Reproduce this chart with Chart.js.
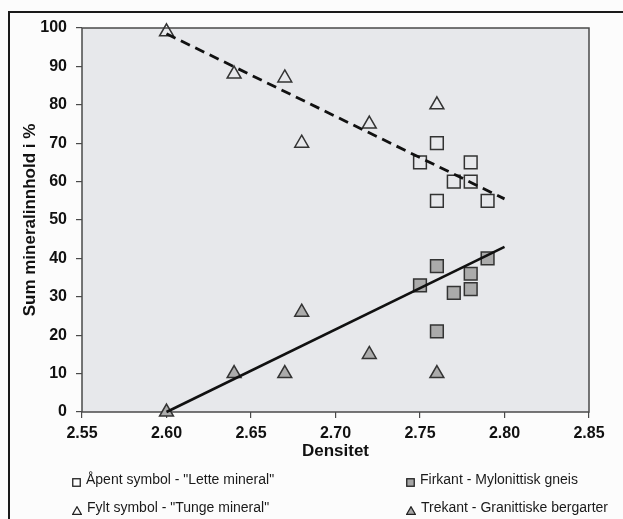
<!DOCTYPE html>
<html>
<head>
<meta charset="utf-8">
<script src="https://cdn.jsdelivr.net/npm/chart.js@4.4.1/dist/chart.umd.min.js"></script>
<style>
    body {
        margin: 0;
        background: #fcfcfc;
        font-family: "Liberation Sans", Arial, sans-serif;
    }
    .wrap {
        position: relative;
        width: 623px;
        height: 519px;
        overflow: hidden;
    }
    .ramme {
        position: absolute;
        left: 8px;
        top: 11px;
        width: 640px;
        height: 540px;
        border-top: 2px solid #1a1a1a;
        border-left: 2px solid #1a1a1a;
        pointer-events: none;
    }
    .legend {
        position: absolute;
        font-size: 14px;
        color: #1a1a1a;
        line-height: 17px;
        white-space: nowrap;
    }
    .legend svg {
        vertical-align: -3px;
        margin-right: 5px;
    }
</style>
</head>
<body>
<div class="wrap">
    <canvas id="mineralChart"></canvas>
    <div class="ramme"></div>
    <div id="legendBox"></div>
</div>

<script>
// Trekant (granittiske bergarter)
const granittX = [2.60, 2.64, 2.67, 2.68, 2.72, 2.76];
const granittLette = [99, 88, 87, 70, 75, 80];
const granittTunge = [0, 10, 10, 26, 15, 10];

// Firkant (mylonittisk gneis)
const gneisLetteX = [2.75, 2.76, 2.76, 2.77, 2.78, 2.78, 2.79];
const gneisLette = [65, 70, 55, 60, 65, 60, 55];
const gneisTungeX = [2.75, 2.76, 2.76, 2.77, 2.78, 2.78, 2.79];
const gneisTunge = [33, 38, 21, 31, 36, 32, 40];

// trendlinjer
const trendX = [2.60, 2.80];
const trendLette = [98.5, 55.5];
const trendTunge = [0, 43];

const xTicks = [2.55, 2.60, 2.65, 2.70, 2.75, 2.80, 2.85];
const yTicks = [0, 10, 20, 30, 40, 50, 60, 70, 80, 90, 100];

const legendLabels = [
    'Åpent symbol - "Lette mineral"',
    'Fylt symbol - "Tunge mineral"',
    'Firkant - Mylonittisk gneis',
    'Trekant - Granittiske bergarter'
];

function toPoints(xs, ys) {
    return xs.map((x, i) => ({ x: x, y: ys[i] }));
}

const plotBg = '#e7e8eb';
const kant = '#333333';
const gra = '#ababab';

const plotArea = {
    id: 'plotArea',
    beforeDatasetsDraw(chart) {
        const { ctx, chartArea: a } = chart;
        ctx.save();
        ctx.fillStyle = plotBg;
        ctx.fillRect(a.left, a.top, a.right - a.left, a.bottom - a.top);
        ctx.strokeStyle = '#4a4a4a';
        ctx.lineWidth = 1.5;
        ctx.strokeRect(a.left, a.top, a.right - a.left, a.bottom - a.top);
        ctx.restore();
    }
};

const ctx = document.getElementById('mineralChart');

new Chart(ctx, {
    type: 'scatter',
    data: {
        datasets: [
            {
                type: 'line',
                label: 'Trend lette',
                data: toPoints(trendX, trendLette),
                borderColor: '#111',
                borderWidth: 2.8,
                borderDash: [10, 6],
                pointRadius: 0,
                fill: false,
                clip: false
            },
            {
                type: 'line',
                label: 'Trend tunge',
                data: toPoints(trendX, trendTunge),
                borderColor: '#111',
                borderWidth: 2.6,
                pointRadius: 0,
                fill: false,
                clip: false
            },
            {
                label: 'Granitt lette',
                data: toPoints(granittX, granittLette),
                pointStyle: 'triangle',
                pointRadius: 8,
                backgroundColor: 'rgba(0,0,0,0)',
                borderColor: kant,
                borderWidth: 1.5,
                clip: false
            },
            {
                label: 'Granitt tunge',
                data: toPoints(granittX, granittTunge),
                pointStyle: 'triangle',
                pointRadius: 8,
                backgroundColor: gra,
                borderColor: kant,
                borderWidth: 1.5,
                clip: false
            },
            {
                label: 'Gneis lette',
                data: toPoints(gneisLetteX, gneisLette),
                pointStyle: 'rect',
                pointRadius: 9,
                backgroundColor: 'rgba(0,0,0,0)',
                borderColor: kant,
                borderWidth: 1.5,
                clip: false
            },
            {
                label: 'Gneis tunge',
                data: toPoints(gneisTungeX, gneisTunge),
                pointStyle: 'rect',
                pointRadius: 9,
                backgroundColor: gra,
                borderColor: kant,
                borderWidth: 1.5,
                clip: false
            }
        ]
    },
    options: {
        responsive: true,
        maintainAspectRatio: false,
        animation: false,
        layout: {
            padding: { left: 0, top: 28, right: 34, bottom: 57 }
        },
        plugins: {
            legend: { display: false },
            tooltip: { enabled: false }
        },
        scales: {
            x: {
                type: 'linear',
                min: 2.55,
                max: 2.85,
                afterFit: (scale) => { scale.height = 50; },
                afterBuildTicks: (scale) => {
                    scale.ticks = xTicks.map(v => ({ value: v }));
                },
                border: { display: false },
                grid: {
                    drawOnChartArea: false,
                    tickLength: 6,
                    color: '#4a4a4a',
                    lineWidth: 1.2
                },
                ticks: {
                    padding: 6,
                    color: '#111',
                    font: { family: "'Liberation Sans', Arial", size: 16, weight: 'bold' },
                    callback: (v) => Number(v).toFixed(2)
                },
                title: {
                    display: true,
                    text: 'Densitet',
                    color: '#111',
                    padding: { top: 0, bottom: 0 },
                    font: { family: "'Liberation Sans', Arial", size: 17, weight: 'bold' }
                }
            },
            y: {
                min: 0,
                max: 100,
                afterFit: (scale) => { scale.width = 82; },
                afterBuildTicks: (scale) => {
                    scale.ticks = yTicks.map(v => ({ value: v }));
                },
                border: { display: false },
                grid: {
                    drawOnChartArea: false,
                    tickLength: 6,
                    color: '#4a4a4a',
                    lineWidth: 1.2
                },
                ticks: {
                    padding: 9,
                    color: '#111',
                    font: { family: "'Liberation Sans', Arial", size: 16, weight: 'bold' }
                },
                title: {
                    display: true,
                    text: 'Sum mineralinnhold i %',
                    color: '#111',
                    padding: { top: 20, bottom: 0 },
                    font: { family: "'Liberation Sans', Arial", size: 17, weight: 'bold' }
                }
            }
        }
    },
    plugins: [plotArea]
});

// forklaring under diagrammet, to kolonner
const ikoner = [
    '<svg width="9" height="9"><rect x="0.75" y="0.75" width="7.5" height="7.5" fill="none" stroke="#222" stroke-width="1.3"/></svg>',
    '<svg width="10" height="9"><polygon points="5,0.8 9.3,8.3 0.7,8.3" fill="none" stroke="#222" stroke-width="1.3"/></svg>',
    '<svg width="9" height="9"><rect x="0.75" y="0.75" width="7.5" height="7.5" fill="#a5a5a5" stroke="#222" stroke-width="1.3"/></svg>',
    '<svg width="10" height="9"><polygon points="5,0.8 9.3,8.3 0.7,8.3" fill="#a5a5a5" stroke="#222" stroke-width="1.3"/></svg>'
];
const plass = [[72, 471], [72, 499], [406, 471], [406, 499]];
const legendBox = document.getElementById('legendBox');
legendLabels.forEach((tekst, i) => {
    const el = document.createElement('div');
    el.className = 'legend';
    el.style.left = plass[i][0] + 'px';
    el.style.top = plass[i][1] + 'px';
    el.innerHTML = ikoner[i];
    el.appendChild(document.createTextNode(tekst));
    legendBox.appendChild(el);
});
</script>
</body>
</html>
